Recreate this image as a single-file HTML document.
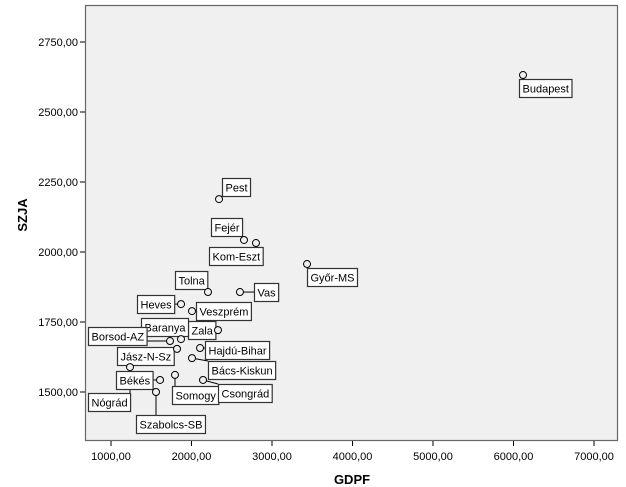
<!DOCTYPE html>
<html><head><meta charset="utf-8"><style>
body{margin:0;background:#fff;}
svg{display:block;font-family:"Liberation Sans",Arial,sans-serif;}
</style></head><body>
<svg id="chart" width="626" height="487">
<rect x="85.5" y="5.5" width="532" height="435" fill="#f0f0f0" stroke="#666" stroke-width="1.2"/>
<g id="axes"></g>
<g id="marks"></g>
<text x="352" y="484" text-anchor="middle" font-size="13" font-weight="bold">GDPF</text>
<text transform="translate(27,215) rotate(-90)" text-anchor="middle" font-size="13" font-weight="bold">SZJA</text>
</svg>
<script>
const counties = ["Budapest","Pest","Fejér","Kom-Eszt","Győr-MS","Tolna","Vas","Heves","Veszprém","Zala","Baranya","Borsod-AZ","Jász-N-Sz","Hajdú-Bihar","Bács-Kiskun","Nógrád","Békés","Somogy","Csongrád","Szabolcs-SB"];
const gdpf = [6118,2342,2652,2801,3435,2205,2602,1870,2006,2329,1870,1733,1820,2106,2006,1236,1609,1795,2143,1559];
const szja = [2632,2189,2043,2032,1957,1857,1857,1814,1789,1721,1689,1682,1654,1657,1621,1589,1543,1561,1543,1500];
const xTicks = [1000,2000,3000,4000,5000,6000,7000];
const yTicks = [1500,1750,2000,2250,2500,2750];
// label box top-left positions (layout only)
const labelPos = [[519,79],[222,178],[211,218],[209,247],[307,268],[175,271],[254,283],[137,295],[196,302],[188,321],[141,318],[88,327],[117,347],[205,341],[208,361],[88,393],[116,371],[172,386],[218,384],[136,415]];

const NS="http://www.w3.org/2000/svg";
const xs=v=>111+(v-1000)*0.0805;
const ys=v=>322-(v-1750)*0.28;
function mk(tag,attrs,parent){const e=document.createElementNS(NS,tag);for(const k in attrs)e.setAttribute(k,attrs[k]);parent.appendChild(e);return e;}
const axes=document.getElementById('axes'), marks=document.getElementById('marks');
xTicks.forEach(t=>{
  const x=xs(t);
  const l=mk('line',{x1:x,x2:x,y1:441,y2:446,stroke:'#000'},axes);
  
  
  const tx=mk('text',{x:x,y:460,'text-anchor':'middle','font-size':'11'},axes);
  tx.textContent=t.toFixed(2).replace('.',',');
  
  
});
yTicks.forEach(t=>{
  const y=ys(t);
  const l=mk('line',{x1:80,x2:85,y1:y,y2:y,stroke:'#000'},axes);
  
  
  const tx=mk('text',{x:78,y:y+4,'text-anchor':'end','font-size':'11'},axes);
  tx.textContent=t.toFixed(2).replace('.',',');
  
  
});
const meas=mk('text',{'font-size':'11',x:-100,y:-100},marks);
counties.forEach((c,i)=>{
  const px=xs(gdpf[i]), py=ys(szja[i]);
  meas.textContent=c;
  const w=meas.getComputedTextLength()+6, h=18;
  const [bx,by]=labelPos[i];
  const nx=Math.max(bx,Math.min(px,bx+w)), ny=Math.max(by,Math.min(py,by+h));
  const ln=mk('line',{x1:px,y1:py,x2:nx,y2:ny,stroke:'#000','stroke-width':'1'},marks);
  
  
  const r=mk('rect',{x:bx+0.5,y:by+0.5,width:w,height:h,fill:'#fff',stroke:'#333','stroke-width':'1.2'},marks);
  
  
  const t=mk('text',{x:bx+3.5,y:by+13.5,'font-size':'11'},marks);
  t.textContent=c;
  
  
  const p=mk('circle',{cx:px,cy:py,r:3.5,fill:'#f0f0f0',stroke:'#000','stroke-width':'1'},marks);
  
  
});
meas.remove();
</script>
</body></html>
